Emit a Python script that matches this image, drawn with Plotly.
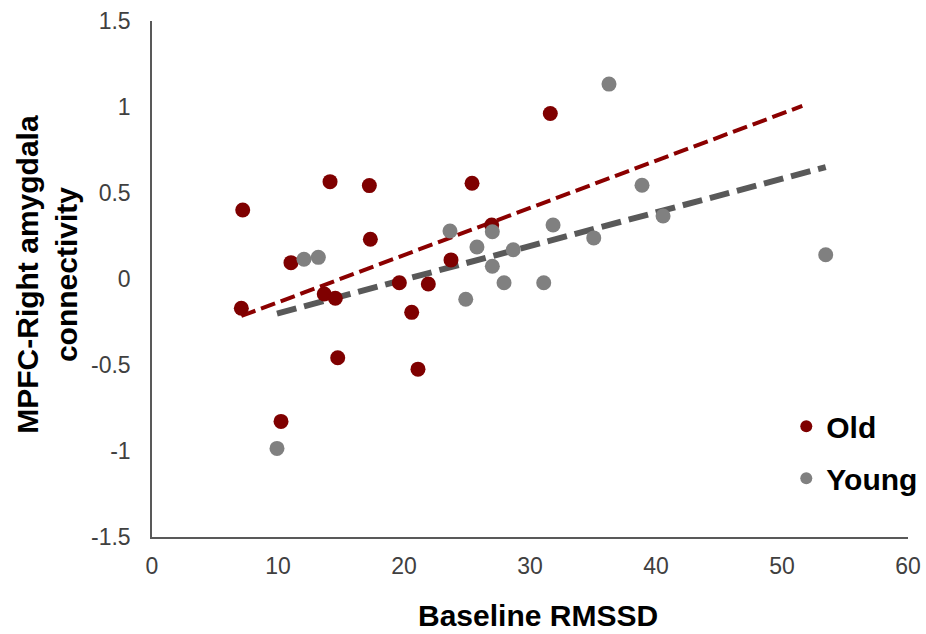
import numpy as np
import plotly.graph_objects as go

# Data
old_rmssd = [7.20, 7.09, 11.03, 10.24, 14.13, 13.67, 14.55, 14.74, 17.25, 17.33,
             19.63, 20.61, 21.11, 21.93, 23.73, 25.40, 26.96, 31.61]
old_conn = [0.401, -0.170, 0.095, -0.828, 0.566, -0.087, -0.112, -0.458, 0.543, 0.231,
            -0.022, -0.194, -0.524, -0.029, 0.111, 0.557, 0.314, 0.962]

young_rmssd = [9.92, 12.06, 13.20, 23.65, 24.90, 25.79, 27.01, 27.01, 27.94, 28.67,
               31.09, 31.83, 35.06, 36.27, 38.89, 40.56, 53.47]
young_conn = [-0.985, 0.115, 0.126, 0.279, -0.118, 0.186, 0.275, 0.074, -0.022, 0.170,
              -0.022, 0.314, 0.239, 1.133, 0.545, 0.366, 0.141]

old_forecast_forward = 20  # trendline extended forward (x units)
young_forecast_forward = 0

x_ticks = [0, 10, 20, 30, 40, 50, 60]
y_ticks = [-1.5, -1, -0.5, 0, 0.5, 1, 1.5]
y_ticklabels = ["-1.5", "-1", "-0.5", "0", "0.5", "1", "1.5"]

RED = "#7F0000"
GRAY = "#808080"
FONT = "Liberation Sans, Arial, sans-serif"


def trend(xs, ys, forward):
    m, b = np.polyfit(xs, ys, 1)
    tx = np.array([min(xs), max(xs) + forward])
    return tx, m * tx + b


fig = go.Figure()

otx, oty = trend(old_rmssd, old_conn, old_forecast_forward)
ytx, yty = trend(young_rmssd, young_conn, young_forecast_forward)

fig.add_trace(go.Scatter(x=ytx, y=yty, mode="lines", showlegend=False, hoverinfo="skip",
                         line=dict(color="#595959", width=6, dash="20px,8px")))
fig.add_trace(go.Scatter(x=otx, y=oty, mode="lines", showlegend=False, hoverinfo="skip",
                         line=dict(color="#8B0000", width=4, dash="15px,6px")))

fig.add_trace(go.Scatter(x=old_rmssd, y=old_conn, mode="markers", name="Old",
                         legendgroup="old", marker=dict(color=RED, size=15)))
fig.add_trace(go.Scatter(x=young_rmssd, y=young_conn, mode="markers", name="Young",
                         legendgroup="young", marker=dict(color=GRAY, size=15)))

fig.update_layout(
    width=926, height=634,
    margin=dict(l=152, r=18, t=21, b=97, autoexpand=False),
    paper_bgcolor="white", plot_bgcolor="white",
    font=dict(family=FONT, size=23, color="#404040"),
    legend=dict(x=0.839, y=0.265, xanchor="left", yanchor="top",
                font=dict(family=FONT, size=30, color="black", weight="bold"),
                itemsizing="constant", tracegroupgap=10, bgcolor="rgba(0,0,0,0)"),
    xaxis=dict(range=[0, 60], tickvals=x_ticks, showgrid=False, zeroline=False,
               showline=True, linecolor="#595959", linewidth=1.5, ticks="",
               ticklabelstandoff=8, automargin=False),
    yaxis=dict(range=[-1.5, 1.5], tickvals=y_ticks, ticktext=y_ticklabels, showgrid=False,
               zeroline=False, showline=True, linecolor="#595959", linewidth=1.5, ticks="",
               ticklabelstandoff=15, automargin=False),
)

fig.add_annotation(text="MPFC-Right amygdala<br>connectivity", textangle=-90,
                   xref="paper", yref="paper", x=-0.139, y=0.51, xanchor="center", yanchor="middle",
                   showarrow=False,
                   font=dict(family=FONT, size=30, color="black", weight="bold"))
fig.add_annotation(text="Baseline RMSSD",
                   xref="paper", yref="paper", x=0.51, y=-0.153, xanchor="center", yanchor="middle",
                   showarrow=False,
                   font=dict(family=FONT, size=30, color="black", weight="bold"))

fig.write_html("out.html", config={"displayModeBar": False},
               post_script="document.body.style.margin='0';document.body.style.overflow='hidden';")
